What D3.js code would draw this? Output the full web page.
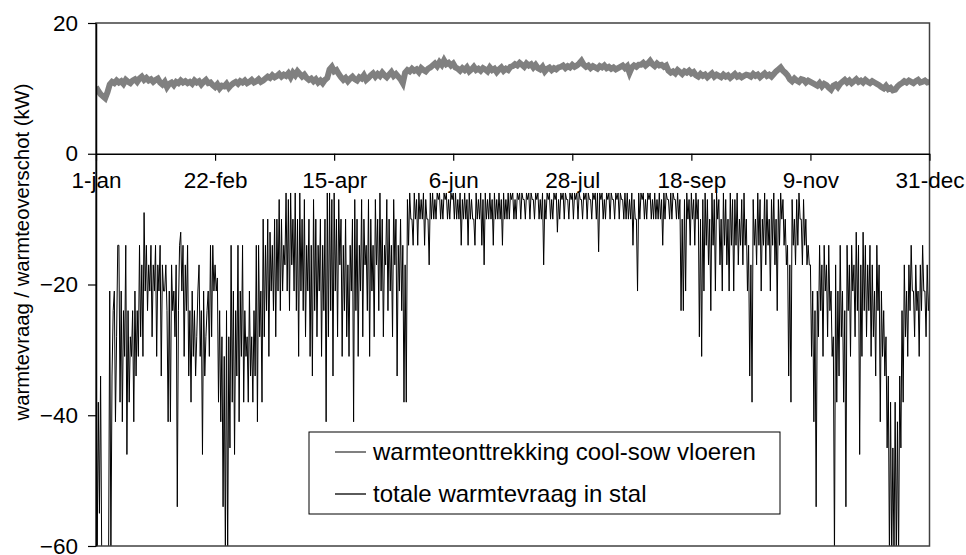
<!DOCTYPE html>
<html><head><meta charset="utf-8">
<script src="https://cdn.jsdelivr.net/npm/d3@7"></script>
<style>
html,body{margin:0;padding:0;background:#fff;}
svg{display:block;font-family:"Liberation Sans",Arial,sans-serif;}
</style></head>
<body><svg id="chart" width="966" height="555"></svg>
<script>
// x-axis ticks (day of year, 0 = 1-jan)
const tickDays = [0, 52, 104, 156, 208, 260, 312, 364];
const tickLabels = ["1-jan", "22-feb", "15-apr", "6-jun", "28-jul", "18-sep", "9-nov", "31-dec"];
const yTicks = [20, 0, -20, -40, -60];
const seriesNames = ["warmteonttrekking cool-sow vloeren", "totale warmtevraag in stal"];
const yTitle = "warmtevraag / warmteoverschot (kW)";

// grey series: daily value (kW), day 0..364
const coolSow = [
10.2,9.6,9.1,8.8,8.5,9.4,
10.6,11.0,10.8,11.2,10.9,11.1,10.7,11.3,11.0,10.8,
11.2,11.4,11.0,11.5,11.8,11.3,11.6,11.2,11.4,11.0,11.3,11.5,
10.9,10.6,11.0,10.2,10.7,10.9,10.5,11.0,10.8,
11.2,10.9,11.1,10.8,11.0,10.7,11.2,10.9,11.1,10.6,11.0,11.3,10.8,10.9,
10.5,10.2,10.6,10.0,10.4,10.3,10.7,10.1,10.5,
10.8,11.0,10.7,11.1,10.9,11.2,10.8,11.0,11.3,10.9,11.1,11.4,11.0,11.2,11.5,
11.8,11.6,12.0,11.7,11.9,12.2,11.8,12.1,11.9,12.3,11.7,
12.4,12.0,12.6,12.2,11.8,12.1,11.6,
11.3,11.5,11.1,11.4,10.9,11.2,10.8,11.3,11.6,
12.9,13.3,12.6,12.8,12.2,
11.7,11.3,11.6,11.1,11.5,11.8,11.4,11.2,11.7,11.5,12.0,11.3,11.6,
12.0,12.3,11.8,12.2,11.9,12.4,12.0,11.7,12.1,12.5,11.9,12.2,11.8,11.4,10.8,
12.4,12.8,12.6,13.0,12.7,12.9,12.5,13.1,12.8,12.6,13.0,13.2,
13.5,13.8,13.4,14.0,13.6,14.3,13.7,13.9,13.5,13.8,13.2,
13.0,12.7,13.1,12.8,13.2,12.6,12.9,13.3,12.8,13.0,12.7,13.1,12.9,12.6,13.2,12.8,13.0,12.5,12.9,13.2,12.7,13.0,12.8,13.3,
13.4,13.7,13.5,13.9,13.6,13.3,13.8,13.5,13.7,13.2,13.6,
13.1,12.9,13.3,12.6,13.0,13.2,12.8,13.1,12.9,13.2,
13.3,13.5,13.1,13.4,13.2,13.6,13.3,13.5,13.8,14.2,13.6,
13.3,13.5,13.1,13.4,13.2,13.0,13.4,13.2,13.5,13.1,13.3,
13.0,13.2,12.9,13.1,
13.3,13.5,13.1,13.4,12.4,13.2,13.5,13.3,13.6,
13.6,13.9,13.5,13.8,14.2,13.7,13.4,13.8,13.5,13.6,13.3,13.5,
12.7,12.4,12.6,12.3,12.8,12.5,12.2,12.6,12.4,12.7,12.3,12.5,
12.0,11.8,12.2,11.9,12.1,11.7,12.0,12.3,11.8,12.1,
11.9,11.7,12.1,11.8,12.0,11.6,11.9,12.2,11.8,12.0,11.7,11.9,12.1,
12.0,11.8,12.2,11.9,12.1,11.7,12.0,12.3,11.9,12.1,11.8,12.2,
12.6,12.9,13.2,12.7,12.4,12.0,
11.4,11.1,11.5,11.2,11.0,11.4,11.3,10.9,11.2,11.0,10.8,
10.6,10.4,10.8,10.3,10.7,10.5,10.1,9.8,10.4,10.6,10.2,10.7,
11.0,11.3,10.9,11.2,10.8,11.1,11.4,11.0,11.2,10.9,11.3,11.0,10.8,11.1,10.9,10.7,10.5,
10.2,10.0,10.4,9.9,10.1,9.7,9.8,10.3,10.6,
10.8,11.1,10.9,11.2,11.0,10.8,11.1,11.3,10.9,11.0,11.2,10.9,11.0
];

// black series: two readings per day (first half, second half), kW
const demandHalfDay = [
-31,-62,-38,-55,-34,-62,-62,-62,-62,-62,-62,-62,-21,-62,-34,-24,-21,-41,-28,-14,
-14,-38,-21,-41,-24,-31,-14,-46,-24,-38,-28,-31,-24,-41,-21,-34,-24,-31,-14,-28,
-17,-31,-9,-21,-14,-24,-17,-21,-14,-28,-17,-21,-14,-31,-17,-21,-14,-34,-17,-21,
-21,-17,-24,-41,-21,-41,-17,-24,-21,-28,-17,-54,-24,-14,-12,-21,-14,-31,-17,-24,
-14,-34,-24,-38,-21,-31,-24,-34,-28,-21,-17,-31,-24,-46,-21,-34,-28,-24,-21,-31,
-14,-28,-14,-21,-17,-21,-19,-38,-24,-41,-28,-54,-31,-62,-24,-62,-28,-45,-14,-38,
-21,-46,-24,-34,-14,-41,-21,-31,-14,-38,-24,-31,-28,-38,-21,-34,-28,-38,-24,-34,
-14,-41,-14,-28,-21,-38,-10,-28,-14,-24,-10,-31,-12,-21,-14,-24,-10,-28,-10,-21,
-7,-24,-10,-21,-14,-17,-6,-21,-7,-24,-6,-17,-10,-21,-6,-24,-10,-31,-6,-21,
-10,-24,-7,-28,-14,-21,-10,-31,-14,-34,-7,-24,-10,-28,-14,-21,-10,-31,-14,-24,
-10,-41,-6,-28,-6,-24,-7,-34,-6,-21,-10,-28,-7,-17,-10,-31,-14,-24,-10,-28,
-17,-31,-14,-21,-10,-41,-7,-24,-10,-31,-14,-21,-7,-28,-10,-17,-14,-24,-7,-31,
-10,-21,-14,-28,-7,-17,-10,-24,-6,-21,-10,-28,-14,-17,-7,-24,-10,-21,-14,-28,
-7,-17,-10,-34,-14,-21,-10,-24,-14,-38,-17,-38,-7,-14,-6,-10,-10,-14,-6,-10,
-7,-14,-6,-10,-7,-10,-6,-14,-7,-10,-10,-17,-6,-10,-6,-10,-7,-10,-6,-7,
-6,-10,-7,-10,-6,-7,-6,-10,-7,-10,-6,-7,-6,-10,-6,-10,-7,-10,-6,-14,
-7,-10,-6,-10,-7,-14,-6,-10,-7,-10,-10,-14,-6,-10,-7,-10,-6,-14,-7,-17,
-6,-10,-7,-10,-6,-10,-7,-14,-6,-10,-7,-10,-6,-10,-7,-14,-6,-10,-7,-10,
-6,-10,-6,-7,-6,-10,-7,-10,-6,-7,-6,-10,-6,-7,-7,-10,-6,-7,-6,-10,
-6,-7,-7,-10,-6,-7,-6,-10,-7,-10,-6,-17,-7,-10,-6,-7,-6,-10,-7,-10,
-6,-7,-6,-12,-7,-10,-6,-7,-6,-10,-6,-7,-7,-10,-6,-7,-6,-10,-6,-7,
-6,-10,-6,-7,-7,-10,-6,-7,-6,-10,-6,-7,-7,-10,-6,-7,-6,-10,-6,-15,
-6,-7,-6,-10,-7,-10,-6,-7,-6,-10,-6,-7,-7,-10,-6,-7,-6,-10,-6,-7,
-7,-10,-6,-10,-6,-10,-7,-10,-6,-14,-7,-10,-10,-21,-6,-10,-6,-7,-6,-10,
-7,-10,-6,-7,-6,-10,-7,-10,-6,-10,-7,-10,-6,-10,-7,-14,-6,-10,-6,-7,
-7,-10,-6,-10,-6,-7,-7,-10,-6,-10,-7,-24,-10,-24,-7,-21,-6,-10,-7,-14,
-6,-10,-7,-14,-6,-10,-7,-28,-10,-31,-7,-21,-6,-14,-7,-17,-10,-24,-6,-14,
-7,-21,-6,-10,-7,-17,-10,-21,-6,-14,-7,-17,-10,-21,-6,-14,-7,-21,-7,-14,
-6,-17,-10,-14,-7,-17,-6,-14,-10,-21,-14,-34,-17,-38,-7,-14,-10,-17,-6,-14,
-7,-21,-10,-14,-6,-17,-7,-14,-10,-21,-7,-14,-6,-17,-10,-24,-7,-14,-6,-10,
-7,-14,-10,-17,-14,-34,-17,-38,-7,-14,-10,-17,-7,-14,-6,-10,-10,-17,-7,-14,
-10,-17,-14,-17,-17,-31,-21,-41,-24,-54,-21,-28,-14,-24,-17,-31,-14,-21,-17,-28,
-14,-24,-21,-31,-28,-62,-17,-38,-21,-34,-14,-28,-21,-38,-24,-54,-14,-24,-17,-31,
-14,-21,-17,-28,-12,-24,-14,-46,-17,-31,-12,-24,-14,-28,-17,-24,-14,-31,-17,-28,
-21,-34,-14,-24,-17,-41,-21,-31,-24,-34,-28,-45,-34,-62,-38,-62,-45,-62,-38,-62,
-41,-62,-34,-45,-24,-38,-17,-28,-21,-31,-17,-24,-14,-21,-21,-28,-17,-24,-21,-31,
-17,-24,-14,-21,-21,-28,-17,-24,-21,-24
];

const svg = d3.select("#chart");
const L = 96, R = 929.5, T = 23, B = 546;
const x = d3.scaleLinear().domain([0, 364]).range([L, R]);
const y = d3.scaleLinear().domain([-60, 20]).range([B, T]);

svg.append("defs").append("clipPath").attr("id", "plotclip")
  .append("rect").attr("x", L).attr("y", T).attr("width", R - L).attr("height", B - T);

const plot = svg.append("g").attr("clip-path", "url(#plotclip)");

// black series
const blackLine = d3.line().x((d, k) => x(k / 2)).y(d => y(d));
plot.append("path").datum(demandHalfDay)
  .attr("d", blackLine)
  .attr("fill", "none").attr("stroke", "#000").attr("stroke-width", 1);

// grey series
const greyLine = d3.line().x((d, i) => x(i)).y(d => y(d));
plot.append("path").datum(coolSow)
  .attr("d", greyLine)
  .attr("fill", "none").attr("stroke", "#808080").attr("stroke-width", 6)
  .attr("stroke-linejoin", "miter");

// frame
svg.append("rect").attr("x", L).attr("y", T).attr("width", R - L).attr("height", B - T)
  .attr("fill", "none").attr("stroke", "#404040").attr("stroke-width", 1.5);

// y axis
const yAxis = svg.append("g").attr("transform", `translate(${L},0)`)
  .call(d3.axisLeft(y).tickValues(yTicks).tickSize(8).tickSizeOuter(0).tickPadding(10));
yAxis.select(".domain").attr("stroke", "#000").attr("stroke-width", 1.5);
yAxis.selectAll(".tick line").attr("stroke", "#000").attr("stroke-width", 1.2);
yAxis.selectAll("text").attr("font-size", 22.5).attr("fill", "#000")
  .attr("font-family", "Liberation Sans, Arial, sans-serif");

// x axis at y = 0
const xAxis = svg.append("g").attr("transform", `translate(0,${y(0)})`)
  .call(d3.axisBottom(x).tickValues(tickDays).tickFormat((d, i) => tickLabels[i])
    .tickSize(7).tickSizeOuter(0).tickPadding(11));
xAxis.select(".domain").attr("stroke", "#000").attr("stroke-width", 1.5);
xAxis.selectAll(".tick line").attr("stroke", "#000").attr("stroke-width", 1.2);
xAxis.selectAll("text").attr("font-size", 22.5).attr("fill", "#000")
  .attr("font-family", "Liberation Sans, Arial, sans-serif");

// y title
svg.append("text")
  .attr("transform", `translate(29,${252}) rotate(-90)`)
  .attr("text-anchor", "middle")
  .attr("font-size", 20.3).attr("fill", "#000")
  .text(yTitle);

// legend
const lg = svg.append("g");
lg.append("rect").attr("x", 309).attr("y", 432).attr("width", 471).attr("height", 82)
  .attr("fill", "#fff").attr("stroke", "#000").attr("stroke-width", 1);
const legendColors = ["#808080", "#000"];
const legendWidths = [2, 1.3];
seriesNames.forEach((name, i) => {
  const cy = 452 + i * 42;
  lg.append("line").attr("x1", 335).attr("x2", 366).attr("y1", cy).attr("y2", cy)
    .attr("stroke", legendColors[i]).attr("stroke-width", legendWidths[i]);
  lg.append("text").attr("x", 373).attr("y", cy).attr("dy", "0.35em")
    .attr("font-size", 24).attr("fill", "#000").text(name);
});
</script>
</body></html>
